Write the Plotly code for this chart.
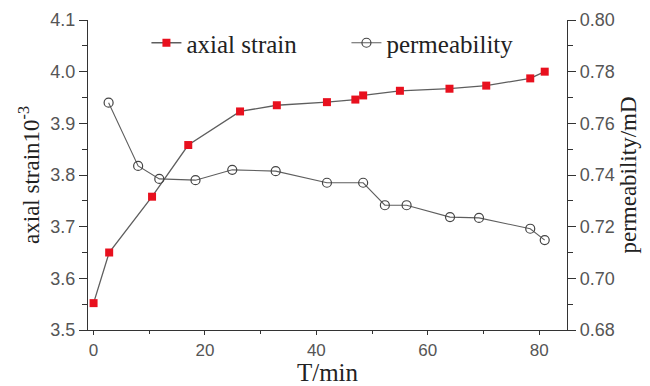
import plotly.graph_objects as go

# Time (min) and measured values
t_strain = [0, 2.8, 10.5, 17.0, 26.3, 32.9, 41.9, 47.0, 48.4, 55.0, 63.9, 70.5, 78.4, 81.0]
axial_strain = [3.552, 3.650, 3.758, 3.858, 3.923, 3.935, 3.941, 3.946, 3.954, 3.963, 3.967, 3.973, 3.987, 4.000]

t_perm = [2.7, 8.0, 11.8, 18.3, 24.9, 32.7, 41.9, 48.4, 52.3, 56.2, 64.0, 69.2, 78.4, 81.0]
permeability = [0.768, 0.7435, 0.7385, 0.738, 0.742, 0.7415, 0.737, 0.737, 0.7283, 0.7283, 0.7237, 0.7234, 0.7192, 0.7148]

x_ticks = [0, 20, 40, 60, 80]
y_ticks = [3.5, 3.6, 3.7, 3.8, 3.9, 4.0, 4.1]
y2_ticks = [0.68, 0.70, 0.72, 0.74, 0.76, 0.78, 0.80]

line_col = "#5e5e5e"
axis_col = "#333333"
serif = "Liberation Serif, Times New Roman, serif"
sans = "Liberation Sans, Arial, sans-serif"

fig = go.Figure()
fig.add_trace(go.Scatter(
    x=t_strain, y=axial_strain, name="axial strain", mode="lines+markers",
    line=dict(color=line_col, width=1.3),
    marker=dict(symbol="square", size=8, color="#e8101e", line=dict(width=0)),
))
fig.add_trace(go.Scatter(
    x=t_perm, y=permeability, name="permeability", mode="lines+markers", yaxis="y2",
    line=dict(color=line_col, width=1.1),
    marker=dict(symbol="circle-open", size=9, color="#444444", line=dict(width=1.2)),
))

tickfont = dict(family=sans, size=18, color="#555555")
axis_common = dict(
    showgrid=False, zeroline=False, showline=True, linecolor=axis_col, linewidth=1.2,
    ticks="outside", ticklen=8, tickcolor=axis_col, tickwidth=1.2, tickfont=tickfont,
    automargin=False,
)

fig.update_layout(
    width=650, height=386,
    margin=dict(l=88, r=83, t=20, b=56),
    paper_bgcolor="white", plot_bgcolor="white",
    showlegend=True,
    legend=dict(
        orientation="h", x=0.122, y=1.0, xanchor="left", yanchor="top",
        font=dict(family=serif, size=25, color="#222222"),
        bgcolor="rgba(0,0,0,0)", entrywidth=155, entrywidthmode="pixels", tracegroupgap=0,
    ),
    xaxis=dict(
        **axis_common, range=[-1, 85], tickvals=x_ticks,
        minor=dict(ticks="outside", ticklen=3, dtick=10, tick0=0, tickcolor=axis_col),
        title=dict(text="T/min", font=dict(family=serif, size=25, color="#222222"), standoff=0),
    ),
    yaxis=dict(
        **axis_common, range=[3.5, 4.1], tickvals=y_ticks, tickformat=".1f",
        minor=dict(ticks="outside", ticklen=5, dtick=0.05, tick0=3.5, tickcolor=axis_col),
        title=dict(text="axial strain10<sup>-3</sup>", font=dict(family=serif, size=23, color="#222222"), standoff=4),
    ),
    yaxis2=dict(
        **axis_common, overlaying="y", side="right", range=[0.68, 0.80],
        tickvals=y2_ticks, tickformat=".2f",
        minor=dict(ticks="outside", ticklen=5, dtick=0.01, tick0=0.68, tickcolor=axis_col),
        title=dict(text="permeability/mD", font=dict(family=serif, size=23, color="#222222"), standoff=6),
    ),
)
fig.update_xaxes(ticklen=4, tickfont=dict(family=sans, size=17, color="#555555"))

fig.write_html("out.html")
